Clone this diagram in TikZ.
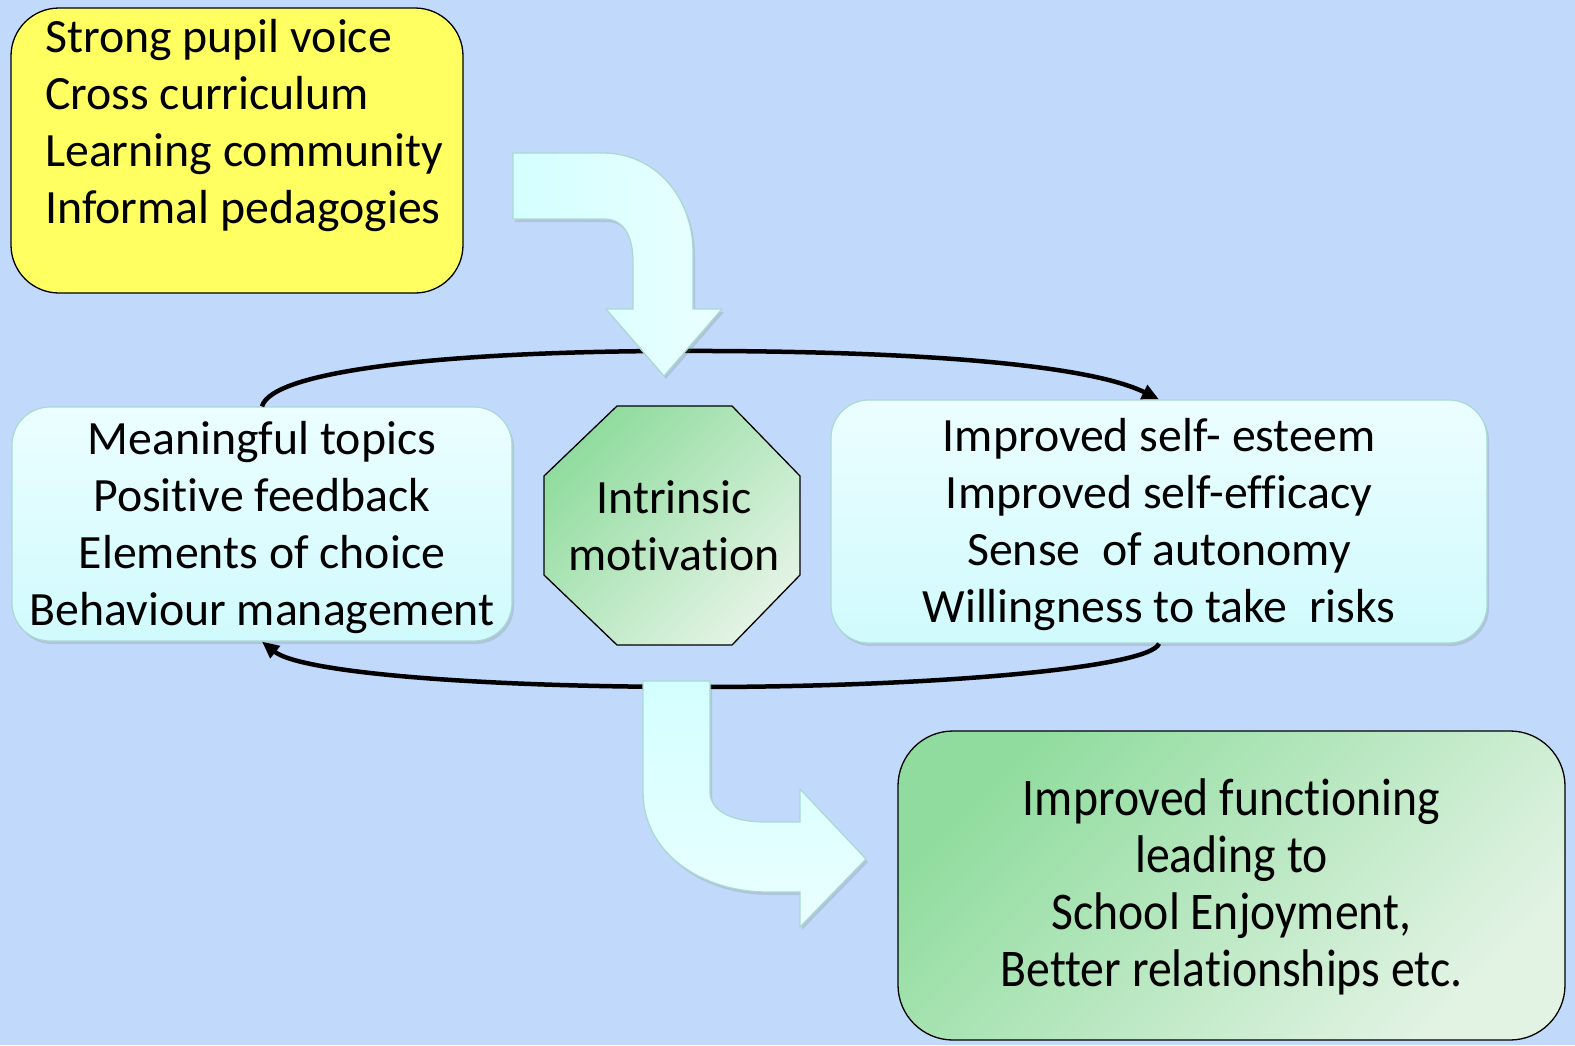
\documentclass[tikz,border=0pt]{standalone}
\usepackage{fontspec}
\setmainfont{Carlito}[Ligatures=NoCommon]
\newfontfamily\tallfont[FakeStretch=0.9, Ligatures=NoCommon]{Carlito}
\usetikzlibrary{arrows.meta,shadows}

\definecolor{bgblue}{HTML}{C1DAFC}
\definecolor{srcyellow}{HTML}{FFFF62}
\definecolor{cyantop}{HTML}{ECFEFF}
\definecolor{cyanbot}{HTML}{D0FAFD}
\definecolor{cyanedge}{HTML}{A9D9D2}
\definecolor{greendark}{HTML}{90DC9E}
\definecolor{greenlight}{HTML}{E2F3E4}
\definecolor{flowtop}{HTML}{D4FFFF}
\definecolor{flowbot}{HTML}{EAFFFF}

% one line of text: 44pt above the baseline, 13pt below
\newcommand{\lstrut}{\rule[-13pt]{0pt}{57pt}}

\begin{document}
\begin{tikzpicture}[x=1pt,y=-1pt,
  txt/.style={font=\fontsize{47.8}{57}\selectfont, text=black, inner sep=0pt},
  talltxt/.style={font=\tallfont\fontsize{53}{57}\selectfont, text=black, inner sep=0pt},
  softshadow/.style={drop shadow={opacity=0.25, shadow xshift=2pt, shadow yshift=-3pt}},
  srcbox/.style={rectangle, rounded corners=48pt, draw=black, line width=1.3pt, fill=srcyellow},
  cyanbox/.style={rectangle, rounded corners=38pt, draw=cyanedge, line width=1.2pt,
    top color=cyantop, bottom color=cyanbot, softshadow, txt, align=center},
  outcome/.style={rectangle, rounded corners=55pt, draw=black, line width=1.3pt,
    top color=greendark, bottom color=greenlight, shading angle=45, talltxt, align=center},
  octo/.style={draw=black, line width=1.3pt, top color=greendark, bottom color=greenlight, shading angle=45},
  cyc/.style={line width=4.5pt, -{Triangle[length=17pt,width=15pt]}},
  flowarrow/.style={draw=cyanedge, line width=1.3pt, softshadow},
]
\fill[bgblue] (0,0) rectangle (1575,1045);
\useasboundingbox (0,0) rectangle (1575,1045);

% conditions box
\node[srcbox, minimum width=452pt, minimum height=285pt] (src) at (237,150.5) {};
\node[txt, anchor=north west, align=left] (srctxt) at (45,8)
  {\lstrut Strong pupil voice\\ \lstrut Cross curriculum\\ \lstrut Learning community\\ \lstrut Informal pedagogies};

% the two sides of the cycle
\node[cyanbox, minimum width=500pt, minimum height=234pt] (lb) at (262,524)
  {\lstrut Meaningful topics\\ \lstrut Positive feedback\\ \lstrut Elements of choice\\ \lstrut Behaviour management};
\node[cyanbox, minimum width=656pt, minimum height=243pt] (rb) at (1159,521.5)
  {\lstrut Improved self- esteem\\ \lstrut Improved self-efficacy\\ \lstrut Sense~ of autonomy\\ \lstrut Willingness to take~ risks};

% centre of the cycle
\shade[octo] (617,406) -- (732,406) -- (800,476) -- (800,575) -- (732,645)
  -- (617,645) -- (544,575) -- (544,476) -- cycle;
\node[txt, align=center] (im) at (674,526) {\lstrut Intrinsic\\ \lstrut motivation};

% outcome box
\node[outcome, minimum width=667pt, minimum height=309pt] (out) at (1231.5,885.5)
  {\lstrut Improved functioning\\ \lstrut leading to\\ \lstrut School Enjoyment,\\ \lstrut Better relationships etc.};

% cycle connectors
\coordinate (topmid) at (665,351);
\coordinate (botmid) at (700,687);
\draw[cyc] (lb.north) .. controls (272,370) and (450,352) .. (topmid)
  .. controls (900,350) and (1085,363) .. (rb.north);
\draw[cyc] (rb.south) .. controls (1150,668) and (930,687) .. (botmid)
  .. controls (470,687) and (300,672) .. (lb.south);

% bent arrow into the cycle
\shade[flowarrow, left color=flowtop, right color=flowbot]
  (513,153) -- (603,153) .. controls (655,153) and (693,197) .. (693,252)
  -- (693,309) -- (722,309) -- (664,376) -- (606,309) -- (633,309) -- (633,262)
  .. controls (633,236) and (624,219) .. (604,219) -- (513,219) -- cycle;

% bent arrow out of the cycle
\shade[flowarrow, top color=flowtop, bottom color=flowbot]
  (643,681) -- (710,681) -- (710,792) .. controls (710,810) and (730,822) .. (767,822)
  -- (800,822) -- (800,789) -- (866,859) -- (800,927) -- (800,892) -- (768,892)
  .. controls (700,892) and (643,852) .. (643,792) -- cycle;
\end{tikzpicture}
\end{document}
